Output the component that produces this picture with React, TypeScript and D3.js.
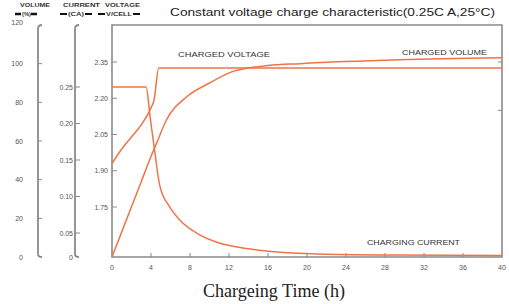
import React from "react";
import * as d3 from "d3";

const timeTicks = [0, 4, 8, 12, 16, 20, 24, 28, 32, 36, 40];
const voltageTicks = [1.75, 1.9, 2.05, 2.2, 2.35];
const voltageTickLabels = ["1.75", "1.90", "2.05", "2.20", "2.35"];
const currentTicks = [0, 0.05, 0.1, 0.15, 0.2, 0.25];
const currentTickLabels = ["0", "0.05", "0.10", "0.15", "0.20", "0.25"];
const capacityTicks = [0, 20, 40, 60, 80, 100, 120];

const voltageSeries: [number, number][] = [
  [0, 1.93], [1, 1.99], [2, 2.04], [3, 2.09], [4, 2.16], [4.3, 2.19], [4.8, 2.325], [10, 2.325], [40, 2.325],
];
const currentSeries: [number, number][] = [
  [0, 0.25], [3.5, 0.25], [3.9, 0.21], [4.4, 0.16], [4.9, 0.115], [5.9, 0.086], [7, 0.067], [9, 0.046],
  [11, 0.029], [14, 0.017], [19, 0.008], [29, 0.004], [40, 0.003],
];
const capacitySeries: [number, number][] = [
  [0, 0], [1, 13], [2, 26], [3, 39], [4, 52], [4.5, 58], [5.6, 71], [7.7, 83], [10, 90], [12.4, 96],
  [16, 99], [19.3, 100], [29.5, 102], [40, 103],
];

const W = 509, H = 304;
const left = 112, right = 502, top = 25, bottom = 257;
const capX = 38, curX = 75;
const orange = "#ee7448";
const axisGray = "#8a8a8a";
const textGray = "#555";

export default function App() {
  const x = d3.scaleLinear().domain([0, 40]).range([left, right]);
  const yV = d3.scaleLinear().domain([1.75, 2.35]).range([207, 62]);
  const yC = d3.scaleLinear().domain([0, 0.05, 0.25]).range([bottom, 233, 87]);
  const yQ = d3.scaleLinear().domain([0, 120]).range([bottom, top]);

  const lineV = d3.line<[number, number]>().x(d => x(d[0])).y(d => yV(d[1])).curve(d3.curveMonotoneX);
  const lineC = d3.line<[number, number]>().x(d => x(d[0])).y(d => yC(d[1])).curve(d3.curveMonotoneX);
  const lineQ = d3.line<[number, number]>().x(d => x(d[0])).y(d => yQ(d[1])).curve(d3.curveMonotoneX);

  const small = { fontFamily: "Liberation Sans, Arial, sans-serif", fontSize: 7, fill: textGray } as const;
  const legend = { fontFamily: "Liberation Sans, Arial, sans-serif", fontSize: 6, fontWeight: 700, fill: "#333" } as const;

  const hookAxis = (ax: number) =>
    `M${ax + 4},${top} Q${ax},${top} ${ax},${top + 4} L${ax},${bottom - 3} Q${ax},${bottom} ${ax + 4},${bottom}`;

  return (
    <svg width={W} height={H} style={{ display: "block", background: "#fff", position: "absolute", left: 0, top: 0 }}>
      {/* title */}
      <text x={170} y={16} textLength={325} lengthAdjust="spacingAndGlyphs"
        style={{ fontFamily: "Liberation Sans, Arial, sans-serif", fontSize: 10.5, fill: "#222" }}>
        Constant voltage charge characteristic(0.25C A,25°C)
      </text>

      {/* legend headers */}
      <text x={20} y={7} textLength={30} lengthAdjust="spacingAndGlyphs" style={legend}>VOLUME</text>
      <text x={63} y={7} textLength={37} lengthAdjust="spacingAndGlyphs" style={legend}>CURRENT</text>
      <text x={105} y={7} textLength={35} lengthAdjust="spacingAndGlyphs" style={legend}>VOLTAGE</text>
      <line x1={15} x2={21} y1={14} y2={14} stroke="#111" strokeWidth={2.5} />
      <text x={22} y={16} textLength={9} lengthAdjust="spacingAndGlyphs" style={legend}>(%)</text>
      <line x1={31} x2={37} y1={14} y2={14} stroke="#111" strokeWidth={2.5} />
      <line x1={60} x2={67} y1={14} y2={14} stroke="#111" strokeWidth={2} />
      <text x={68} y={16} textLength={16} lengthAdjust="spacingAndGlyphs" style={legend}>(CA)</text>
      <line x1={85} x2={92} y1={14} y2={14} stroke="#111" strokeWidth={2} />
      <line x1={98} x2={105} y1={14} y2={14} stroke="#111" strokeWidth={2} />
      <text x={106} y={16} textLength={26} lengthAdjust="spacingAndGlyphs" style={legend}>V/CELL</text>
      <line x1={133} x2={140} y1={14} y2={14} stroke="#111" strokeWidth={2} />

      {/* capacity axis */}
      <path d={hookAxis(capX)} fill="none" stroke={axisGray} strokeWidth={1.8} />
      {capacityTicks.map(t => (
        <g key={"q" + t}>
          {t > 0 && t < 120 && <line x1={capX} x2={capX + 4} y1={yQ(t)} y2={yQ(t)} stroke={axisGray} strokeWidth={1} />}
          <text x={23} y={yQ(t) + (t === 120 ? -0.5 : 2.5)} textAnchor="end" style={small}>{t}</text>
        </g>
      ))}

      {/* current axis */}
      <path d={hookAxis(curX)} fill="none" stroke={axisGray} strokeWidth={1.8} />
      {currentTicks.map((t, i) => (
        <g key={"c" + t}>
          {t > 0 && <line x1={curX} x2={curX + 5} y1={yC(t)} y2={yC(t)} stroke={axisGray} strokeWidth={1} />}
          <text x={73} y={yC(t) + 2.5} textAnchor="end" style={small}>{currentTickLabels[i]}</text>
        </g>
      ))}

      {/* plot frame */}
      <path d={`M${left},${bottom} L${left},${top} L${right},${top} L${right},${bottom} Z`}
        fill="none" stroke={axisGray} strokeWidth={1.6} />

      {/* voltage axis ticks */}
      {voltageTicks.map((t, i) => (
        <g key={"v" + t}>
          <line x1={left} x2={left + 5} y1={yV(t)} y2={yV(t)} stroke={axisGray} strokeWidth={1} />
          <text x={108} y={yV(t) + 2.5} textAnchor="end" style={small}>{voltageTickLabels[i]}</text>
        </g>
      ))}
      {[2.35, 2.15].map(t => (
        <line key={"rv" + t} x1={right - 4} x2={right} y1={yV(t)} y2={yV(t)} stroke={axisGray} strokeWidth={1} />
      ))}

      {/* time axis */}
      {timeTicks.map(t => (
        <g key={"t" + t}>
          {t > 0 && t < 40 && <line x1={x(t)} x2={x(t)} y1={bottom} y2={bottom - 4} stroke={axisGray} strokeWidth={1} />}
          <text x={x(t)} y={270} textAnchor="middle" style={small}>{t}</text>
        </g>
      ))}
      <text x={274} y={297} textAnchor="middle" textLength={142} lengthAdjust="spacingAndGlyphs"
        style={{ fontFamily: "Liberation Serif, DejaVu Serif, serif", fontSize: 18, fill: "#222" }}>
        Chargeing Time (h)
      </text>

      {/* curves */}
      <path d={lineV(voltageSeries) || ""} fill="none" stroke={orange} strokeWidth={1.5} />
      <path d={lineC(currentSeries) || ""} fill="none" stroke={orange} strokeWidth={1.5} />
      <path d={lineQ(capacitySeries) || ""} fill="none" stroke={orange} strokeWidth={1.5} />

      {/* curve labels */}
      <text x={178} y={57} textLength={92} lengthAdjust="spacingAndGlyphs" style={{ ...small, fill: "#333" }}>CHARGED VOLTAGE</text>
      <text x={402} y={55} textLength={85} lengthAdjust="spacingAndGlyphs" style={{ ...small, fill: "#333" }}>CHARGED VOLUME</text>
      <text x={367} y={245} textLength={93} lengthAdjust="spacingAndGlyphs" style={{ ...small, fill: "#333" }}>CHARGING CURRENT</text>
    </svg>
  );
}
